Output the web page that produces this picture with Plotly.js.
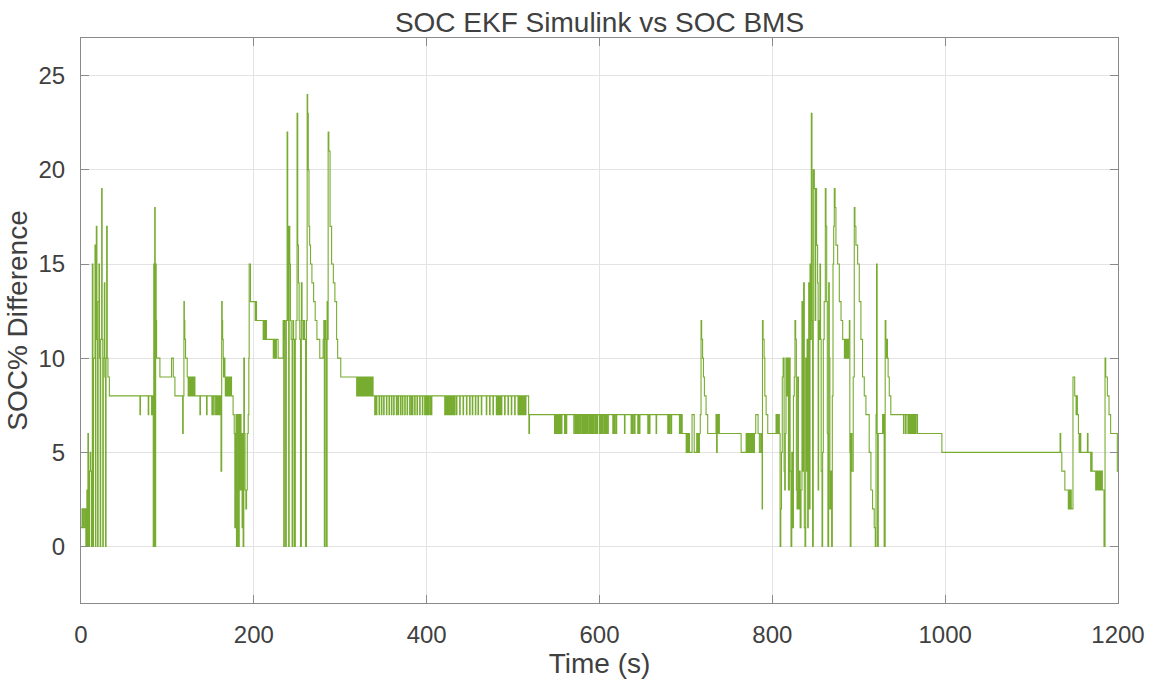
<!DOCTYPE html>
<html>
<head>
<meta charset="utf-8">
<script src="https://cdn.plot.ly/plotly-3.0.1.min.js"></script>
<style>html,body{margin:0;padding:0;background:#fff;}#chart{width:1158px;height:681px;}</style>
</head>
<body>
<div id="chart"></div>
<script>
// Step-change breakpoints of the SOC% difference signal (time in s, value in %)
const breakT = [
  0,1.2,2.2,2.8,4.2,4.8,5.6,6.2,6.8,7.4,8.0,8.6,9.2,9.8,10.6,11.2,12.0,13.1,13.8,14.5,16.2,16.8,17.2,17.7,18.4,19.2,19.8,20.8,21.4,22.2,22.8,23.9,24.5,25.2,25.8,27.0,27.6,28.4,29.0,29.7,30.4,31.2,32.8,
  83.6,84.2,84.8,85.3,85.9,86.4,87.0,87.5,91.3,104.8,106.8,108.7,117.6,118.3,119.1,119.6,120.1,121.0,122.9,131.8,
  162.0,162.8,163.4,163.9,164.6,166.5,174.2,
  176.0,177.3,178.0,178.6,179.4,179.9,181.2,181.9,183.1,183.8,184.5,185.2,185.7,186.4,186.9,187.6,188.4,189.1,189.8,190.8,191.6,192.4,193.5,194.2,194.6,196.1,203.1,214.6,228.1,
  233.9,234.6,235.3,236.2,236.8,237.6,238.5,239.2,239.8,240.3,240.9,241.6,242.4,243.2,244.3,245.2,246.0,247.0,248.0,248.8,250.0,250.8,251.6,252.4,253.2,254.0,255.0,255.8,256.8,257.8,258.8,259.9,260.9,261.7,262.3,263.0,263.8,264.6,265.6,267.2,269.2,271.0,273.0,276.3,280.2,281.0,281.6,282.4,283.2,284.0,284.8,285.4,286.0,286.8,288.2,290.0,292.0,293.8,295.8,297.0,300.6,338.0,
  518.0,518.3,519.0,
  692.5,693.3,694.1,694.9,695.7,700.3,701.3,702.1,703.0,704.1,707.1,709.6,712.5,713.2,714.0,714.8,715.6,716.6,717.5,718.2,719.3,720.3,721.4,723.3,725.2,734.8,735.5,736.2,737.0,737.8,738.7,763.9,769.7,770.5,771.3,772.1,773.0,773.8,774.6,775.4,776.2,777.0,777.8,778.6,779.3,780.8,783.5,785.0,786.5,787.5,788.2,788.6,789.3,790.5,791.3,792.8,794.7,804.3,805.0,805.8,806.6,807.4,
  808.1,809.0,809.8,810.6,811.5,812.5,813.6,814.3,815.0,815.8,816.8,817.7,818.6,819.7,820.6,821.6,822.5,823.5,824.4,825.4,826.2,827.0,827.8,828.6,829.3,
  830.2,831.2,832.2,833.2,834.3,835.2,836.2,837.0,837.8,838.6,839.4,840.2,840.9,841.6,842.1,842.8,843.6,844.3,845.1,845.9,846.6,847.4,848.6,849.5,850.2,851.2,852.4,853.0,853.6,854.3,855.1,855.8,856.5,857.5,858.2,859.0,860.0,861.3,862.1,862.9,863.6,864.3,865.2,865.9,866.6,867.9,868.6,869.4,870.2,871.0,871.7,872.6,873.6,875.6,877.5,879.5,881.4,883.4,884.2,885.2,886.4,887.2,888.3,889.1,889.7,890.2,891.0,892.1,893.6,894.8,895.6,896.7,898.7,900.6,902.5,904.4,906.4,908.3,912.1,914.1,916.0,917.9,919.1,920.0,920.6,921.3,921.8,922.6,927.6,928.2,928.8,929.4,930.6,931.4,932.0,932.6,933.2,934.0,935.3,937.1,968.0,996.2,
  1133.0,1133.7,1135.0,1138.5,1142.5,1143.5,1144.3,1145.1,1145.9,1147.9,1149.9,1151.5,1152.3,1153.0,1154.2,1155.0,1156.0,1156.9,1164.6,1165.3,1168.4,1169.2,1170.0,1174.2,1175.2,1176.2,1177.1,1178.0,1179.0,1180.0,1181.0,1181.9,1183.8,1185.0,1185.8,1187.7,1189.6,1191.5,1199.2,1200
];
const breakV = [
  1,2,1,2,1,2,0,2,3,0,6,3,0,4,5,4,0,15,0,10,16,0,12,17,11,0,13,15,10,0,11,19,11,0,10,14,9,0,10,17,10,9,8,
  0,15,0,18,0,15,12,10,9,10,9,8,6,8,13,12,11,10,9,8,
  4,13,12,11,10,9,8,
  7,6,1,6,7,0,7,0,7,3,7,6,3,1,6,0,10,6,3,2,3,6,7,10,15,13,12,11,10,
  12,0,12,11,0,12,22,17,12,0,17,15,12,11,0,12,11,0,11,12,23,16,14,12,11,0,14,12,11,12,11,0,12,24,23,20,17,16,15,14,13,12,11,10,11,12,0,12,11,0,13,11,22,21,17,15,14,13,11,10,9,8,
  7,6,7,
  6,7,6,7,6,5,6,5,6,5,7,5,6,5,6,5,6,7,12,11,10,9,8,7,6,7,5,7,6,7,6,5,6,5,6,5,6,5,6,5,6,5,6,5,6,7,6,5,6,5,2,12,11,10,8,7,6,7,6,7,6,7,
  6,0,2,5,9,10,4,3,6,10,8,10,3,10,4,0,5,1,8,9,12,11,3,2,9,
  2,4,1,3,13,4,14,1,0,10,4,11,1,4,14,2,15,11,23,12,0,20,19,12,19,16,14,3,12,11,15,11,4,0,5,11,13,19,17,13,6,0,14,10,2,4,0,8,15,17,19,18,16,15,13,12,11,10,11,10,11,10,11,12,5,0,6,4,9,18,17,16,15,13,11,9,8,7,5,3,2,1,0,7,15,6,0,6,7,6,7,0,12,11,10,11,10,9,8,7,6,5,
  6,5,4,3,2,3,2,3,2,9,8,7,8,7,6,5,6,5,6,5,4,5,4,3,4,3,4,3,4,3,4,3,0,10,9,8,7,6,4,4
];
// Times of short one-step drops below the running level (s)
const dipT = [
  68.2,77.8,81.7,
  124.0,124.9,125.8,126.7,127.6,128.5,129.4,130.3,131.2,
  137.6,145.3,151.5,153.5,155.8,157.4,158.6,159.8,160.8,
  164.9,165.7,167.0,167.9,168.8,169.7,170.6,171.5,172.4,173.3,
  201.5,202.3,210.8,211.8,212.8,213.8,222.5,223.5,224.5,225.5,
  319.0,320.0,321.2,322.2,323.2,324.4,325.4,326.4,327.6,328.6,329.6,330.8,331.8,332.8,334.0,335.0,336.0,337.0,
  339.9,340.5,341.2,341.8,344.9,347.6,350.2,353.4,356.4,359.2,361.8,364.9,366.9,369.6,371.9,374.6,377.3,380.3,382.3,383.5,386.1,388.8,391.9,395.0,397.7,399.6,401.5,403.5,405.4,
  420.9,421.8,422.7,423.7,424.6,425.5,426.5,427.4,428.3,429.3,430.2,431.2,432.2,434.4,438.2,442.1,446.0,449.7,452.8,456.3,459.4,463.2,469.0,472.8,476.7,
  480.6,481.5,482.5,483.5,484.5,485.4,486.4,490.2,494.1,497.9,501.8,505.7,507.5,508.5,509.5,510.5,511.5,512.5,513.4,514.3,
  548.0,548.8,549.6,550.5,551.5,552.5,553.3,554.2,555.1,555.9,559.6,561.5,
  570.3,572.3,574.2,576.1,578.0,580.0,581.9,583.8,585.7,587.7,589.6,591.5,593.4,595.4,597.3,600.0,601.9,603.8,605.8,607.7,609.6,615.4,617.3,619.3,
  628.9,636.6,638.5,640.5,644.3,646.2,655.9,657.8,665.5,679.0,680.9,682.9,
  951.8,954.2,956.9,957.8,958.7,959.6,960.5,961.4,962.3,963.2,964.1,965.0,965.9
];

function buildSeries(bt, bv, dips, w) {
  const pts = bt.map((t, i) => [t, bv[i]]);
  dips.forEach(d => {
    let k = 0;
    while (k + 1 < bt.length && bt[k + 1] <= d) k++;
    const base = bv[k];
    const next = k + 1 < bt.length ? bt[k + 1] : Infinity;
    const end = Math.min(d + w, next - 0.05);
    pts.push([d, base - 1]);
    pts.push([end, base]);
  });
  pts.sort((a, b) => a[0] - b[0]);
  return { x: pts.map(p => p[0]), y: pts.map(p => p[1]) };
}
const s = buildSeries(breakT, breakV, dipT, 0.6);

const FONT = 'Liberation Sans, Arial, sans-serif';
const TXT = '#404040';
const trace = {
  x: s.x, y: s.y, type: 'scatter', mode: 'lines',
  line: { color: '#77AC30', width: 1.1, shape: 'hv' },
  hoverinfo: 'skip'
};
const axisCommon = {
  showline: true, linecolor: '#8a8a8a', linewidth: 1, mirror: 'ticks',
  ticks: 'inside', ticklen: 8, tickcolor: '#8a8a8a', tickwidth: 1,
  showgrid: true, gridcolor: '#e3e3e3', gridwidth: 1, zeroline: false,
  tickfont: { family: FONT, size: 24, color: TXT }
};
const layout = {
  width: 1158, height: 681,
  margin: { l: 81, r: 40, t: 38, b: 78 },
  paper_bgcolor: '#ffffff', plot_bgcolor: '#ffffff',
  showlegend: false,
  title: { text: 'SOC EKF Simulink vs SOC BMS', font: { family: FONT, size: 28, color: TXT },
           x: 0.5, xref: 'paper', xanchor: 'center', y: 1, yref: 'paper', yanchor: 'bottom', pad: { b: 6 } },
  xaxis: Object.assign({}, axisCommon, {
    range: [0, 1200], tickvals: [0, 200, 400, 600, 800, 1000, 1200], ticklabelstandoff: 10,
    title: { text: 'Time (s)', font: { family: FONT, size: 28, color: TXT }, standoff: 6 }
  }),
  yaxis: Object.assign({}, axisCommon, {
    range: [-3, 27], tickvals: [0, 5, 10, 15, 20, 25], ticklabelstandoff: 10,
    title: { text: 'SOC% Difference', font: { family: FONT, size: 28, color: TXT }, standoff: 2 }
  })
};
Plotly.newPlot('chart', [trace], layout, { staticPlot: true, displayModeBar: false });
</script>
</body>
</html>
